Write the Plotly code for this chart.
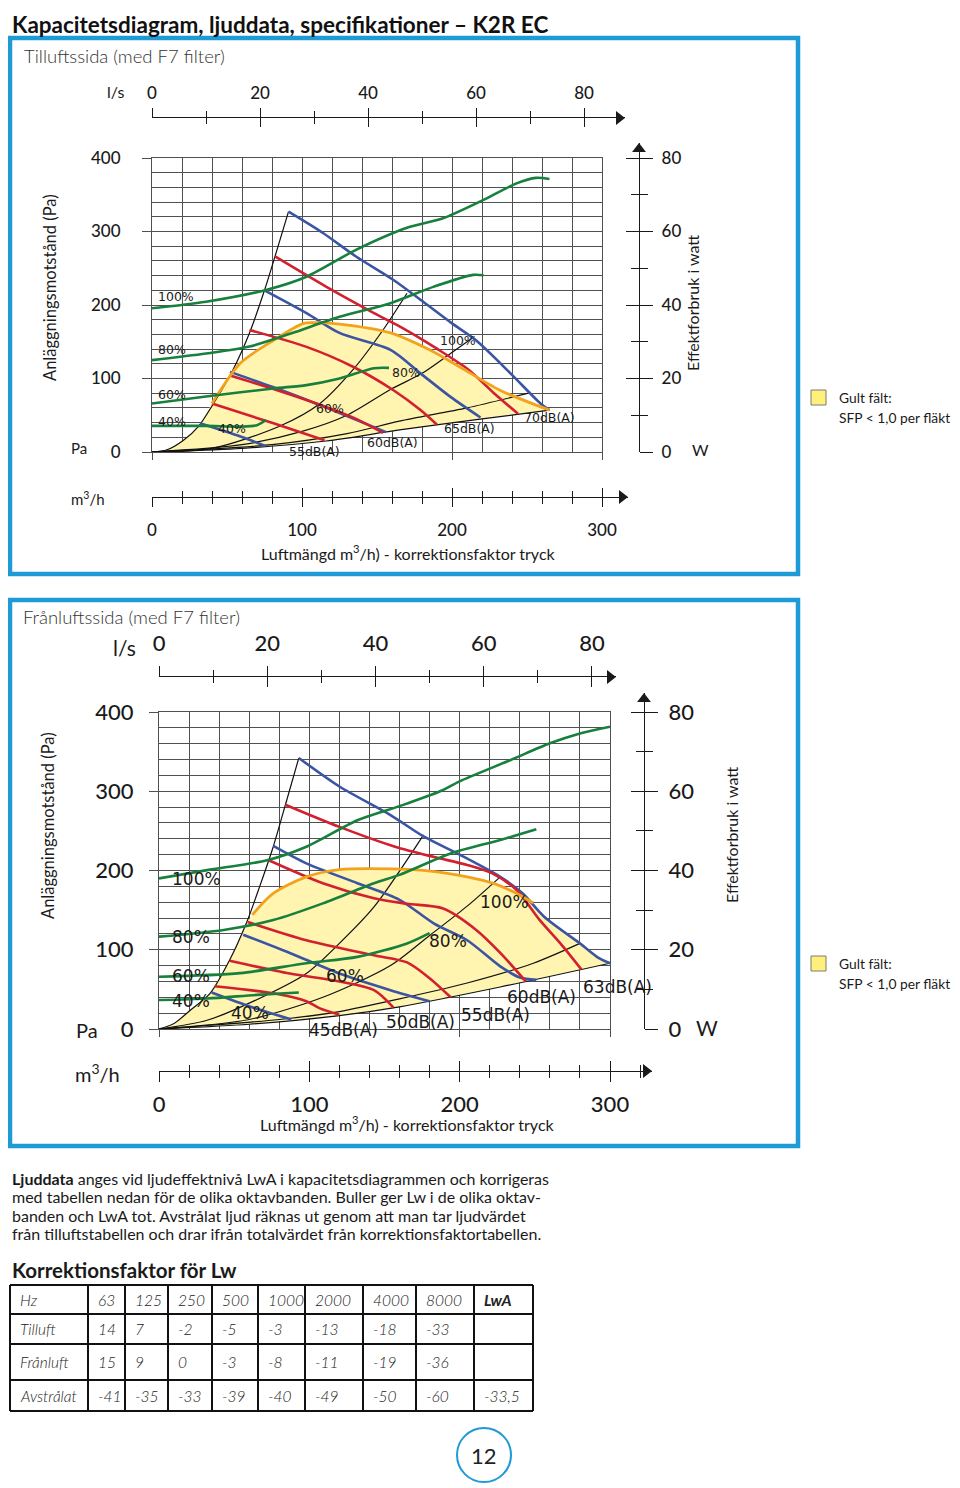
import plotly.graph_objects as go

# ===================== DATA =====================
# q = airflow [m3/h], p = pressure [Pa], w = power [W]

# ---- Tilluftssida (top diagram) ----
t_env_q = [0, 10, 21, 31, 41, 54, 65, 75, 82, 91]
t_env_p = [0, 3, 16, 35, 66, 112, 162, 220, 266, 327]
t_sys1_q = [0, 40, 85, 112, 134, 154, 170]
t_sys1_p = [0, 5, 35, 66, 112, 166, 216]
t_sys2_q = [0, 60, 100, 130, 159, 180, 199, 215]
t_sys2_p = [0, 10, 28, 50, 85, 107, 134, 157]
t_sys3_q = [0, 80, 130, 165, 210, 251]
t_sys3_p = [0, 10, 25, 42, 60, 80]
t_base_q = [0, 60, 116, 165, 220, 265]
t_base_p = [0, 5, 15, 30, 45, 57]
t_fan100_q = [91, 114, 136, 161, 181, 200, 216, 239, 259, 265]
t_fan100_p = [327, 298, 266, 234, 204, 175, 152, 107, 66, 57]
t_fan80_q = [75, 103, 125, 159, 179, 199, 219]
t_fan80_p = [220, 189, 162, 139, 107, 75, 47]
t_fan60_q = [52, 81, 108, 130, 156]
t_fan60_p = [109, 88, 67, 49, 27]
t_fan40_q = [32, 59, 76]
t_fan40_p = [39, 21, 8]
t_db55_q = [40, 81, 115]
t_db55_p = [66, 39, 16]
t_db60_q = [52, 85, 115, 135, 154]
t_db60_p = [104, 83, 62, 46, 26]
t_db65_q = [65, 103, 134, 161, 179, 190]
t_db65_p = [166, 143, 116, 84, 57, 37]
t_db70_q = [82, 116, 148, 165, 181, 188, 211, 228, 244]
t_db70_p = [266, 225, 189, 171, 152, 143, 112, 80, 52]
t_sfp_q = [40, 59, 81, 101, 108, 125, 159, 185, 205, 232, 265]
t_sfp_p = [66, 121, 152, 175, 176, 174, 162, 139, 116, 84, 57]
t_pw100_q = [0, 36, 76, 103, 136, 170, 194, 221, 243, 256, 265]
t_pw100_w = [39.1, 40.9, 44.1, 47.7, 55.0, 61.0, 63.6, 68.6, 73.1, 74.6, 74.3]
t_pw80_q = [0, 36, 65, 93, 125, 159, 188, 214, 221]
t_pw80_w = [25.0, 26.8, 28.7, 32.3, 36.8, 40.5, 45.0, 48.2, 48.1]
t_pw60_q = [0, 36, 81, 103, 125, 148, 158]
t_pw60_w = [13.2, 15.1, 17.3, 18.2, 20.0, 22.8, 22.9]
t_pw40_q = [0, 36, 59, 70, 76]
t_pw40_w = [7.1, 7.1, 6.9, 7.3, 8.7]

# ---- Frånluftssida (bottom diagram) ----
b_env_q = [0, 10, 21, 34, 47, 58, 67, 76, 85, 93]
b_env_p = [0, 7, 24, 45, 87, 133, 180, 230, 289, 342]
b_sys1_q = [0, 32, 65, 98, 120, 143, 176]
b_sys1_p = [0, 11, 37, 70, 108, 154, 245]
b_sys2_q = [0, 60, 109, 154, 180, 205, 227]
b_sys2_p = [0, 12, 40, 80, 118, 155, 192]
b_sys3_q = [0, 80, 120, 160, 205, 249, 280]
b_sys3_p = [0, 12, 22, 38, 58, 83, 108]
b_base_q = [0, 60, 120, 160, 227, 300]
b_base_p = [0, 6, 17, 28, 53, 83]
b_fan100_q = [93, 120, 154, 176, 200, 227, 242, 256, 280, 293, 300]
b_fan100_p = [342, 306, 270, 243, 220, 192, 171, 142, 108, 89, 83]
b_fan80_q = [76, 98, 132, 160, 183, 205, 227, 240, 251]
b_fan80_p = [231, 209, 184, 163, 133, 112, 79, 65, 62]
b_fan60_q = [56, 87, 120, 154, 180]
b_fan60_p = [119, 96, 70, 49, 35]
b_fan40_q = [35, 61, 88]
b_fan40_p = [46, 28, 12]
b_db45_q = [37, 76, 98, 107, 120]
b_db45_p = [54, 45, 35, 26, 18]
b_db50_q = [47, 87, 120, 143, 156]
b_db50_p = [86, 70, 60, 49, 27]
b_db55_q = [59, 98, 143, 165, 180, 194]
b_db55_p = [135, 112, 93, 84, 64, 40]
b_db60_q = [73, 109, 143, 165, 189, 211, 227, 244]
b_db60_p = [213, 184, 165, 158, 152, 125, 96, 60]
b_db63_q = [84, 120, 157, 183, 205, 222, 238, 253, 267, 281]
b_db63_p = [283, 255, 230, 217, 207, 196, 175, 138, 108, 75]
b_sfp_q = [62, 76, 98, 120, 154, 182, 205, 222, 238, 249]
b_sfp_p = [144, 171, 192, 201, 202, 199, 192, 184, 171, 159]
b_pw100_q = [0, 32, 72, 98, 132, 162, 187, 200, 234, 260, 280, 300]
b_pw100_w = [38.0, 40.1, 42.6, 46.0, 52.7, 56.5, 60.0, 62.5, 67.9, 72.1, 74.6, 76.3]
b_pw80_q = [0, 43, 76, 109, 143, 160, 194, 227, 251]
b_pw80_w = [23.3, 25.0, 27.5, 31.7, 36.8, 38.9, 44.3, 47.7, 50.4]
b_pw60_q = [0, 54, 98, 132, 165, 180]
b_pw60_w = [13.2, 14.1, 16.6, 18.2, 21.6, 24.2]
b_pw40_q = [0, 32, 65, 93]
b_pw40_w = [7.3, 7.7, 8.6, 9.2]

# labels
speed_labels = ["100%", "80%", "60%", "40%"]
fan_labels = ["40%", "60%", "80%", "100%"]
t_db_labels = ["55dB(A)", "60dB(A)", "65dB(A)", "70dB(A)"]
b_db_labels = ["45dB(A)", "50dB(A)", "55dB(A)", "60dB(A)", "63dB(A)"]

# Korrektionsfaktor table
octave_bands = ["63", "125", "250", "500", "1000", "2000", "4000", "8000"]
tilluft = [14, 7, -2, -5, -3, -13, -18, -33]
franluft = [15, 9, 0, -3, -8, -11, -19, -36]
avstralat = [-41, -35, -33, -39, -40, -49, -50, -60]
avstralat_lwa = "-33,5"

QMAX, PMAX, WMAX, M3H_PER_LS = 300, 400, 80, 3.6

# ===================== STYLE / GEOMETRY =====================
# page offset of the html body is compensated so positions match the 960x1488 page
OFF = 8
FW, FH = 960 - OFF, 1488 - OFF
def PX(x): return (x - OFF) / FW
def PY(y): return 1 - (y - OFF) / FH

FONT = "Lato, 'Open Sans', sans-serif"
LFONT = "'DejaVu Sans', Verdana, sans-serif"
INK = "#1a1a1a"
GRID = "#505050"
BOX = "#1e9ad6"
C_BLUE, C_RED, C_GREEN = "#3b55a3", "#d2202f", "#17803c"
C_ORANGE, C_YELLOW = "#f2a31b", "#fff4b0"
ARROW = 12  # arrow-head marker size (px)

TOP = dict(X0=152, X1=602, Y0=158, Y1=452, LS_Y=118, LS_TIP=625, M3_Y=497, M3_TIP=628,
           W_X=639, W_TIP=143, num=17, tl=9, tm=6, wl=13, wm=8,
           ystand=18, lsstand=2, m3stand=8, wstand=5)
BOT = dict(X0=159, X1=610, Y0=712, Y1=1029, LS_Y=677, LS_TIP=616, M3_Y=1071, M3_TIP=652,
           W_X=644, W_TIP=693, num=22, tl=10, tm=6, wl=13, wm=8,
           ystand=11, lsstand=6, m3stand=3, wstand=6)

def an(letter, n): return f"{letter}axis" + ("" if n == 1 else str(n))
def rf(letter, n): return letter + ("" if n == 1 else str(n))

fig = go.Figure()
lay = dict(width=FW, height=FH, autosize=False,
           margin=dict(l=0, r=0, t=0, b=0, pad=0, autoexpand=False),
           paper_bgcolor="white", plot_bgcolor="rgba(0,0,0,0)", showlegend=False)
annotations, shapes = [], []


def add_line(q, v, xa, ya, color, width):
    fig.add_trace(go.Scatter(x=q, y=v, xaxis=xa, yaxis=ya, mode="lines",
                             line=dict(color=color, width=width, shape="spline", smoothing=0.8),
                             hoverinfo="skip"))


def marker_trace(xa, ya, x, y, symbol="circle", size=1, opacity=0):
    fig.add_trace(go.Scatter(x=[x], y=[y], xaxis=xa, yaxis=ya, mode="markers", cliponaxis=False,
                             marker=dict(symbol=symbol, size=size, color=INK, opacity=opacity,
                                         line=dict(width=0)),
                             hoverinfo="skip"))


def panel(xb, yb, G, D):
    X, XLS, XLS2, XM3, XM32, XW = range(xb, xb + 6)
    Y, YLS, YM3, YW, YW2, YG = range(yb, yb + 6)
    nf = dict(family=FONT, size=G["num"], color=INK, weight=500)
    span = G["X1"] - G["X0"]
    m3_px = span / QMAX                      # px per m3/h
    ls_px = m3_px * M3H_PER_LS               # px per l/s
    w_px = (G["Y1"] - G["Y0"]) / WMAX        # px per W
    m3_max = (G["M3_TIP"] - G["X0"]) / m3_px
    ls_max = (G["LS_TIP"] - G["X0"]) / ls_px
    w_max = (G["Y1"] - G["W_TIP"]) / w_px
    grid = dict(showgrid=True, gridcolor=GRID, gridwidth=1, zeroline=False, showline=True,
                mirror=True, linecolor=GRID, linewidth=1, ticks="outside", tickcolor=GRID,
                tickwidth=1, tickmode="linear", tick0=0, fixedrange=True)
    mgrid = dict(dtick=20, showgrid=True, gridcolor=GRID, gridwidth=1)
    lay[an("x", X)] = dict(grid, domain=[PX(G["X0"]), PX(G["X1"])], range=[0, QMAX], dtick=100,
                           ticklen=7, showticklabels=False, anchor=rf("y", Y), minor=mgrid)
    lay[an("y", Y)] = dict(grid, domain=[PY(G["Y1"]), PY(G["Y0"])], range=[0, PMAX], dtick=100,
                           ticklen=9, tickfont=nf, ticklabelstandoff=G["ystand"],
                           anchor=rf("x", X), minor=mgrid)
    lay[an("y", YG)] = dict(overlaying=rf("y", Y), range=[0, WMAX], visible=False,
                            anchor=rf("x", X), fixedrange=True)
    deco = dict(showgrid=False, zeroline=False, tickmode="linear", tick0=0, tickcolor=INK,
                tickwidth=1.3, fixedrange=True)
    # l/s axis
    lay[an("y", YLS)] = dict(domain=[PY(G["LS_Y"] + 10), PY(G["LS_Y"])], visible=False,
                             range=[0, 1], anchor=rf("x", XLS), fixedrange=True)
    lay[an("x", XLS)] = dict(deco, domain=[PX(G["X0"]), PX(G["LS_TIP"])], range=[0, ls_max],
                             anchor=rf("y", YLS), side="top", showline=True, linecolor=INK,
                             linewidth=1.3, ticks="outside", dtick=20, ticklen=G["tl"],
                             tickfont=nf, ticklabelstandoff=G["lsstand"],
                             minor=dict(dtick=10, ticks="outside", ticklen=G["tm"],
                                        tickcolor=INK, tickwidth=1.3))
    lay[an("x", XLS2)] = dict(deco, overlaying=rf("x", XLS), range=[0, ls_max],
                              anchor=rf("y", YLS), side="top", showline=False, ticks="inside",
                              dtick=20, ticklen=G["tl"], showticklabels=False,
                              minor=dict(dtick=10, ticks="inside", ticklen=G["tm"],
                                         tickcolor=INK, tickwidth=1.3))
    # m3/h axis
    lay[an("y", YM3)] = dict(domain=[PY(G["M3_Y"]), PY(G["M3_Y"] - 10)], visible=False,
                             range=[0, 1], anchor=rf("x", XM3), fixedrange=True)
    lay[an("x", XM3)] = dict(deco, domain=[PX(G["X0"]), PX(G["M3_TIP"])], range=[0, m3_max],
                             anchor=rf("y", YM3), side="bottom", showline=True, linecolor=INK,
                             linewidth=1.3, ticks="outside", dtick=100, ticklen=G["tl"],
                             tickfont=nf, ticklabelstandoff=G["m3stand"],
                             minor=dict(dtick=20, ticks="outside", ticklen=G["tm"],
                                        tickcolor=INK, tickwidth=1.3))
    lay[an("x", XM32)] = dict(deco, overlaying=rf("x", XM3), range=[0, m3_max],
                              anchor=rf("y", YM3), side="bottom", showline=False, ticks="inside",
                              dtick=100, ticklen=G["tl"], showticklabels=False,
                              minor=dict(dtick=20, ticks="inside", ticklen=G["tm"],
                                         tickcolor=INK, tickwidth=1.3))
    # W axis
    lay[an("x", XW)] = dict(domain=[PX(G["W_X"] - 10), PX(G["W_X"])], visible=False,
                            range=[0, 1], anchor=rf("y", YW), fixedrange=True)
    lay[an("y", YW)] = dict(deco, domain=[PY(G["Y1"]), PY(G["W_TIP"])], range=[0, w_max],
                            anchor=rf("x", XW), side="right", showline=True, linecolor=INK,
                            linewidth=1.3, ticks="outside", dtick=20, ticklen=G["wl"],
                            tickfont=nf, ticklabelstandoff=G["wstand"],
                            minor=dict(dtick=10, ticks="outside", ticklen=G["wm"],
                                       tickcolor=INK, tickwidth=1.3))
    lay[an("y", YW2)] = dict(deco, overlaying=rf("y", YW), range=[0, w_max],
                             anchor=rf("x", XW), side="right", showline=False, ticks="inside",
                             dtick=20, ticklen=G["wl"], showticklabels=False,
                             minor=dict(dtick=10, ticks="inside", ticklen=G["wm"],
                                        tickcolor=INK, tickwidth=1.3))
    # arrow heads at the axis ends (markers on the axes' own scales)
    half = ARROW / 2
    marker_trace(rf("x", XLS), rf("y", YLS), ls_max - half / ls_px, 1, "triangle-right", ARROW, 1)
    marker_trace(rf("x", XM3), rf("y", YM3), m3_max - half / m3_px, 0, "triangle-right", ARROW, 1)
    marker_trace(rf("x", XW), rf("y", YW), 1, w_max - half / w_px, "triangle-up", ARROW, 1)
    marker_trace(rf("x", XLS2), rf("y", YLS), 0, 0)
    marker_trace(rf("x", XM32), rf("y", YM3), 0, 0)
    marker_trace(rf("x", XW), rf("y", YW2), 0, 0)

    xa, ya, yg = rf("x", X), rf("y", Y), rf("y", YG)
    # yellow SFP field: envelope -> SFP boundary -> (fan curve) -> base line back
    fq = [q for q in D["env"][0] if q < D["sfp"][0][0]] + D["sfp"][0]
    fp = [p for q, p in zip(*D["env"]) if q < D["sfp"][0][0]] + D["sfp"][1]
    fq += [q for q in D["fan"][0][0] if q > D["sfp"][0][-1]]
    fp += [p for q, p in zip(*D["fan"][0]) if q > D["sfp"][0][-1]]
    fq += D["base"][0][::-1]
    fp += D["base"][1][::-1]
    fig.add_trace(go.Scatter(x=fq, y=fp, xaxis=xa, yaxis=ya, mode="lines", fill="toself",
                             fillcolor=C_YELLOW, line=dict(width=0), hoverinfo="skip"))
    for c in [D["env"]] + D["sys"] + [D["base"]]:
        add_line(c[0], c[1], xa, ya, "#111111", 1.2)
    for c in D["fan"]:
        add_line(c[0], c[1], xa, ya, C_BLUE, 2.6)
    for c in D["db"]:
        add_line(c[0], c[1], xa, ya, C_RED, 2.6)
    add_line(D["sfp"][0], D["sfp"][1], xa, ya, C_ORANGE, 2.8)
    for c in D["pw"]:
        add_line(c[0], c[1], xa, yg, C_GREEN, 2.6)


panel(1, 1, TOP, dict(
    env=(t_env_q, t_env_p), base=(t_base_q, t_base_p),
    sys=[(t_sys1_q, t_sys1_p), (t_sys2_q, t_sys2_p), (t_sys3_q, t_sys3_p)],
    fan=[(t_fan100_q, t_fan100_p), (t_fan80_q, t_fan80_p), (t_fan60_q, t_fan60_p), (t_fan40_q, t_fan40_p)],
    db=[(t_db55_q, t_db55_p), (t_db60_q, t_db60_p), (t_db65_q, t_db65_p), (t_db70_q, t_db70_p)],
    sfp=(t_sfp_q, t_sfp_p),
    pw=[(t_pw100_q, t_pw100_w), (t_pw80_q, t_pw80_w), (t_pw60_q, t_pw60_w), (t_pw40_q, t_pw40_w)]))
panel(7, 7, BOT, dict(
    env=(b_env_q, b_env_p), base=(b_base_q, b_base_p),
    sys=[(b_sys1_q, b_sys1_p), (b_sys2_q, b_sys2_p), (b_sys3_q, b_sys3_p)],
    fan=[(b_fan100_q, b_fan100_p), (b_fan80_q, b_fan80_p), (b_fan60_q, b_fan60_p), (b_fan40_q, b_fan40_p)],
    db=[(b_db45_q, b_db45_p), (b_db50_q, b_db50_p), (b_db55_q, b_db55_p), (b_db60_q, b_db60_p), (b_db63_q, b_db63_p)],
    sfp=(b_sfp_q, b_sfp_p),
    pw=[(b_pw100_q, b_pw100_w), (b_pw80_q, b_pw80_w), (b_pw60_q, b_pw60_w), (b_pw40_q, b_pw40_w)]))


def T(x, y, s, size, xa="center", ya="middle", family=FONT, color=INK, weight="normal",
      angle=0, style="normal"):
    annotations.append(dict(x=PX(x), y=PY(y), xref="paper", yref="paper", text=s,
                            showarrow=False, xanchor=xa, yanchor=ya, textangle=angle,
                            font=dict(family=family, size=size, color=color, weight=weight,
                                      style=style)))


# ---- page texts
T(10, 9, "Kapacitetsdiagram, ljuddata, specifikationer – K2R EC", 22.5, xa="left", ya="top",
  weight="bold", color="#111")
for y0, y1 in [(38, 574), (600, 1146)]:
    shapes.append(dict(type="rect", xref="paper", yref="paper", x0=PX(10), x1=PX(798),
                       y0=PY(y1), y1=PY(y0), line=dict(color=BOX, width=4.5)))
T(22, 56, "Tilluftssida (med F7 filter)", 18.5, xa="left", weight=300, color="#333")
T(21, 617, "Frånluftssida (med F7 filter)", 18.5, xa="left", weight=300, color="#333")

# axis captions – top
T(115, 92, "l/s", 16)
T(79, 448, "Pa", 15)
T(88, 498, "m<sup>3</sup>/h", 15)
T(408, 552, "Luftmängd m<sup>3</sup>/h) - korrektionsfaktor tryck", 16)
T(700, 449, "W", 16)
T(50, 288, "Anläggningsmotstånd (Pa)", 16.5, angle=-90)
T(692, 303, "Effektforbruk i watt", 16, angle=-90)
# axis captions – bottom
T(124, 647, "l/s", 21)
T(87, 1030, "Pa", 20)
T(97, 1073, "m<sup>3</sup>/h", 20)
T(407, 1123, "Luftmängd m<sup>3</sup>/h) - korrektionsfaktor tryck", 16)
T(707, 1028, "W", 21)
T(48, 826, "Anläggningsmotstånd (Pa)", 16.5, angle=-90)
T(731, 835, "Effektforbruk i watt", 16, angle=-90)

# curve labels – top
for s, y in zip(speed_labels, [296, 349, 394, 421]):
    T(156, y, s, 12.5, xa="left", family=LFONT)
for s, (x, y) in zip(fan_labels, [(232, 428), (330, 408), (406, 372), (458, 341)]):
    T(x, y, s, 12.5, family=LFONT)
for s, (x, y) in zip(t_db_labels, [(314, 451), (392, 443), (469, 428), (549, 418)]):
    T(x, y, s, 12.5, family=LFONT)
# curve labels – bottom
for s, y in zip(speed_labels, [879, 937, 976, 1001]):
    T(170, y, s, 17, xa="left", family=LFONT)
for s, (x, y) in zip(fan_labels, [(250, 1013), (345, 976), (448, 941), (504, 902)]):
    T(x, y, s, 17, family=LFONT)
for s, (x, y) in zip(b_db_labels, [(343, 1030), (420, 1022), (496, 1015), (541, 997), (617, 987)]):
    T(x, y, s, 17, family=LFONT)

# legend "Gult fält"
for yt in [390, 956]:
    shapes.append(dict(type="rect", xref="paper", yref="paper", x0=PX(811), x1=PX(826),
                       y0=PY(yt + 15), y1=PY(yt), fillcolor="#fff07c",
                       line=dict(color="#7a7a7a", width=1)))
    T(837, yt + 8, "Gult fält:", 13.8, xa="left")
    T(837, yt + 27, "SFP < 1,0 per fläkt", 13.8, xa="left")

# paragraph
para = ["<b>Ljuddata</b> anges vid ljudeffektnivå LwA i kapacitetsdiagrammen och korrigeras",
        "med tabellen nedan för de olika oktavbanden. Buller ger Lw i de olika oktav-",
        "banden och LwA tot. Avstrålat ljud räknas ut genom att man tar ljudvärdet",
        "från tilluftstabellen och drar ifrån totalvärdet från korrektionsfaktortabellen."]
for i, s in enumerate(para):
    T(10, 1178 + i * 18.5, s, 16, xa="left")
T(10, 1270, "Korrektionsfaktor för Lw", 20.5, xa="left", weight="bold")

# table
col_edges = [10, 88, 125, 168, 212, 258, 305, 363, 416, 474, 533]
row_edges = [1285, 1314, 1344, 1380, 1411]
for x in col_edges:
    shapes.append(dict(type="line", xref="paper", yref="paper", x0=PX(x), x1=PX(x),
                       y0=PY(row_edges[0]), y1=PY(row_edges[-1]), line=dict(color="#111", width=2)))
for y in row_edges:
    shapes.append(dict(type="line", xref="paper", yref="paper", x0=PX(col_edges[0]),
                       x1=PX(col_edges[-1]), y0=PY(y), y1=PY(y), line=dict(color="#111", width=2)))
table_rows = [["Hz"] + octave_bands + ["<b>LwA</b>"],
              ["Tilluft"] + [str(v) for v in tilluft] + [""],
              ["Frånluft"] + [str(v) for v in franluft] + [""],
              ["Avstrålat"] + [str(v) for v in avstralat] + [avstralat_lwa]]
for r, row in enumerate(table_rows):
    yc = (row_edges[r] + row_edges[r + 1]) / 2
    for c, s in enumerate(row):
        if s:
            T(col_edges[c] + 8, yc, s, 15.5, xa="left", style="italic", weight=300, color="#222")

# page number
shapes.append(dict(type="circle", xref="paper", yref="paper", x0=PX(457), x1=PX(511),
                   y0=PY(1482), y1=PY(1428), line=dict(color=BOX, width=2)))
T(484, 1455, "12", 22, color="#222")

lay["annotations"] = annotations
lay["shapes"] = shapes
fig.update_layout(**lay)
fig.write_html("out.html")
